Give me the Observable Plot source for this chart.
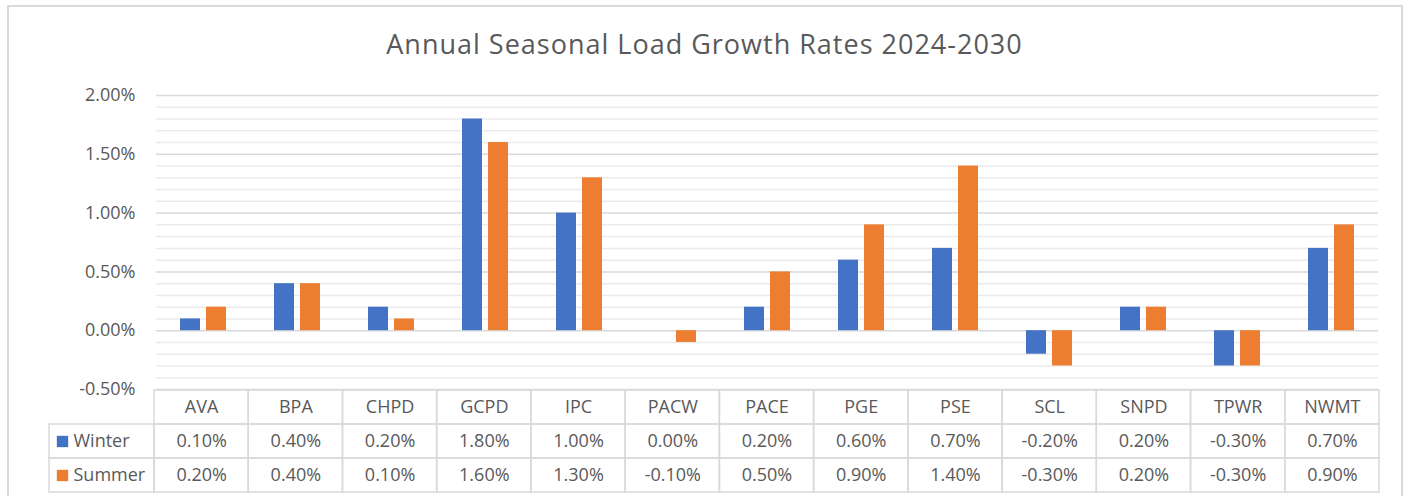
<!DOCTYPE html>
<html>
<head>
<meta charset="utf-8">
<script src="https://cdn.jsdelivr.net/npm/d3@7"></script>
<script src="https://cdn.jsdelivr.net/npm/@observablehq/plot@0.6"></script>
<style>
  html, body { margin: 0; padding: 0; background: #fff; }
  #wrap { position: relative; width: 1409px; height: 496px; overflow: hidden; background: #fff; font-family: "Open Sans", sans-serif; }
  #border { position: absolute; left: 7px; top: 5px; width: 1396px; height: 560px; box-sizing: border-box; border: 2px solid #D9D9D9; }
  #title { position: absolute; left: 0; top: 25px; width: 1409px; text-align: center; font-size: 27px; line-height: 38px; color: #595959; letter-spacing: 1px; }
  #bars { position: absolute; left: 0; top: 75px; }
  #table { position: absolute; left: 0; top: 387px; }
</style>
</head>
<body>
<div id="wrap">
  <div id="border"></div>
  <div id="title">Annual Seasonal Load Growth Rates 2024-2030</div>
  <div id="bars"></div>
  <div id="table"></div>
</div>
<script>
// ---- data ----
const categories = ["AVA","BPA","CHPD","GCPD","IPC","PACW","PACE","PGE","PSE","SCL","SNPD","TPWR","NWMT"];
const winter = [0.10, 0.40, 0.20, 1.80, 1.00, 0.00, 0.20, 0.60, 0.70, -0.20, 0.20, -0.30, 0.70];
const summer = [0.20, 0.40, 0.10, 1.60, 1.30, -0.10, 0.50, 0.90, 1.40, -0.30, 0.20, -0.30, 0.90];
const series = ["Winter", "Summer"];
const seriesColors = ["#4472C4", "#ED7D31"];
const yTicks = [-0.5, 0, 0.5, 1.0, 1.5, 2.0];
const yMinorTicks = [-0.4, -0.3, -0.2, -0.1, 0.1, 0.2, 0.3, 0.4, 0.6, 0.7, 0.8, 0.9, 1.1, 1.2, 1.3, 1.4, 1.6, 1.7, 1.8, 1.9];

const valuesBySeries = {Winter: winter, Summer: summer};
const fmt = v => v.toFixed(2) + "%";

const rows = categories.flatMap((c, i) => series.map(s => ({cat: c, series: s, value: valuesBySeries[s][i]})));

// ---- layout ----
const W = 1409;
const plotLeft = 154, plotRight = 30, legendLeft = 49;
const textColor = "#595959";
const fontSize = 18;

const bars = Plot.plot({
  width: W,
  height: 326,
  marginTop: 20,
  marginBottom: 12,
  marginLeft: plotLeft,
  marginRight: plotRight,
  style: {fontFamily: "'Open Sans', sans-serif", fontSize: fontSize + "px", color: textColor, background: "transparent"},
  fx: {domain: categories, padding: 0, axis: null},
  x: {domain: series, paddingInner: 0.222, paddingOuter: 0.855, axis: null},
  y: {domain: [-0.5, 2.0], axis: null},
  color: {domain: series, range: seriesColors},
  marks: [
    Plot.gridY(yMinorTicks, {stroke: "#EBEBEB", strokeOpacity: 1, strokeWidth: 1.5}),
    Plot.gridY(yTicks, {stroke: "#D9D9D9", strokeOpacity: 1, strokeWidth: 1.5}),
    Plot.axisY(yTicks, {label: null, tickSize: 0, tickPadding: 21, tickFormat: fmt, fontSize: fontSize, fill: textColor}),
    Plot.barY(rows, {fx: "cat", x: "series", y: "value", fill: "series"})
  ]
});
document.getElementById("bars").append(bars);

// ---- data table ----
const colUnit = (W - plotRight - plotLeft) / categories.length;
const legendSpan = (plotLeft - legendLeft) / colUnit;
const tableRowKeys = ["header", "Winter", "Summer"];
const cells = categories.flatMap((c, i) => [
  {x1: i, x2: i + 1, row: "header", label: c},
  {x1: i, x2: i + 1, row: "Winter", label: fmt(winter[i])},
  {x1: i, x2: i + 1, row: "Summer", label: fmt(summer[i])}
]);
const legendCells = series.map(s => ({x1: -legendSpan, x2: 0, row: s, label: s}));

const table = Plot.plot({
  width: W,
  height: 109,
  marginTop: 2,
  marginBottom: 3,
  marginLeft: legendLeft,
  marginRight: plotRight,
  style: {fontFamily: "'Open Sans', sans-serif", fontSize: fontSize + "px", color: textColor, background: "transparent"},
  x: {domain: [-legendSpan, categories.length], axis: null},
  y: {domain: tableRowKeys, padding: 0, axis: null},
  color: {domain: series, range: seriesColors},
  marks: [
    Plot.barX(cells.concat(legendCells), {x1: "x1", x2: "x2", y: "row", fill: "none", stroke: "#D9D9D9", strokeWidth: 1.5}),
    Plot.text(cells, {x: d => (d.x1 + d.x2) / 2, y: "row", text: "label", fontSize: fontSize, fill: textColor}),
    Plot.dot(series, {y: d => d, frameAnchor: "left", dx: 13, symbol: "square", r: 6.4, fill: d => d, stroke: null}),
    Plot.text(series, {y: d => d, frameAnchor: "left", dx: 24, textAnchor: "start", text: d => d, fontSize: fontSize, fill: textColor})
  ]
});
document.getElementById("table").append(table);
</script>
</body>
</html>
